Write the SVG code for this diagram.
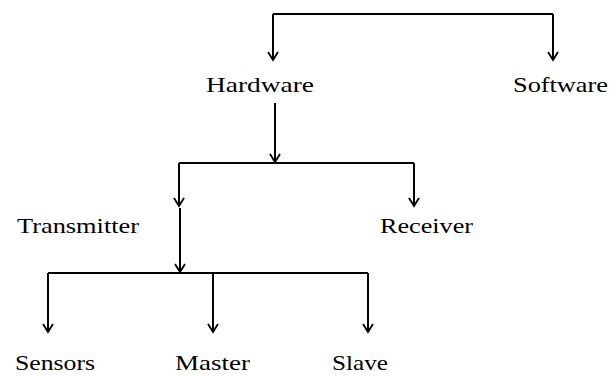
<svg xmlns="http://www.w3.org/2000/svg" width="609" height="376" viewBox="0 0 609 376">
<defs>
<marker id="arr" viewBox="0 0 12 12" refX="10" refY="6" markerWidth="12" markerHeight="12" markerUnits="userSpaceOnUse" orient="auto">
<path d="M2,1 L10,6 L2,11" fill="none" stroke="#000" stroke-width="1.8"/>
</marker>
<style>
.c{fill:none;stroke:#000;stroke-width:2}
.t{font-family:"Liberation Serif","Times New Roman",serif;font-size:22px;fill:#000}
</style>
</defs>
<rect width="609" height="376" fill="#fff"/>
<g id="connectors">
<path class="c" d="M273,14 H553"/>
<path class="c" d="M273,14 V60" marker-end="url(#arr)"/>
<path class="c" d="M553,14 V60" marker-end="url(#arr)"/>
<path class="c" d="M275,103 V162" marker-end="url(#arr)"/>
<path class="c" d="M179,163 H414"/>
<path class="c" d="M179,163 V206" marker-end="url(#arr)"/>
<path class="c" d="M414,163 V206" marker-end="url(#arr)"/>
<path class="c" d="M180,208 V272" marker-end="url(#arr)"/>
<path class="c" d="M48,273 H368"/>
<path class="c" d="M48,273 V332" marker-end="url(#arr)"/>
<path class="c" d="M213,273 V332" marker-end="url(#arr)"/>
<path class="c" d="M368,273 V332" marker-end="url(#arr)"/>
</g>
<g id="hardware"><text class="t" x="206" y="92" textLength="108" lengthAdjust="spacingAndGlyphs">Hardware</text></g>
<g id="software"><text class="t" x="513" y="92" textLength="95" lengthAdjust="spacingAndGlyphs">Software</text></g>
<g id="transmitter"><text class="t" x="17" y="233" textLength="122" lengthAdjust="spacingAndGlyphs">Transmitter</text></g>
<g id="receiver"><text class="t" x="380" y="233" textLength="93" lengthAdjust="spacingAndGlyphs">Receiver</text></g>
<g id="sensors"><text class="t" x="15" y="370" textLength="80" lengthAdjust="spacingAndGlyphs">Sensors</text></g>
<g id="master"><text class="t" x="175" y="370" textLength="75" lengthAdjust="spacingAndGlyphs">Master</text></g>
<g id="slave"><text class="t" x="332" y="370" textLength="56" lengthAdjust="spacingAndGlyphs">Slave</text></g>
</svg>
